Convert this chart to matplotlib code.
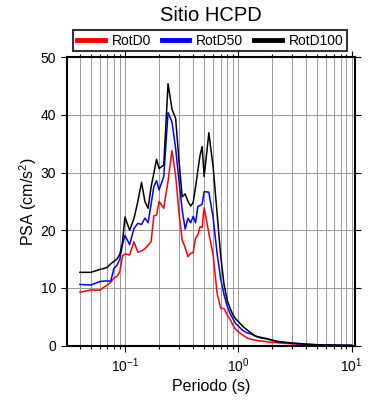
import matplotlib
matplotlib.use("Agg")
from matplotlib import pyplot as plt
from matplotlib.ticker import LogLocator, FixedLocator

plt.rcParams["font.family"] = ["Liberation Sans", "DejaVu Sans"]
plt.rcParams["mathtext.fontset"] = "custom"
plt.rcParams["mathtext.rm"] = "Liberation Sans"
plt.rcParams["mathtext.it"] = "Liberation Sans:italic"

periods = [0.04, 0.05, 0.06, 0.066, 0.07, 0.075, 0.08, 0.085, 0.09, 0.095,
           0.10, 0.11, 0.12, 0.13, 0.14, 0.15, 0.16, 0.17, 0.18, 0.19,
           0.20, 0.22, 0.24, 0.26, 0.28, 0.30, 0.32, 0.34, 0.36, 0.38,
           0.40, 0.42, 0.44, 0.46, 0.48, 0.50, 0.55, 0.60, 0.65, 0.70,
           0.75, 0.80, 0.85, 0.90, 0.95, 1.0, 1.1, 1.2, 1.3, 1.4,
           1.5, 1.6, 1.8, 2.0, 2.2, 2.5, 3.0, 3.5, 4.0, 5.0,
           6.0, 7.0, 8.0, 10.0]

rotd0 = [9.25, 9.65, 9.6, 10.2, 10.5, 11.0, 11.7, 12.0, 12.8, 15.5,
         15.9, 15.7, 18.0, 16.2, 16.4, 16.8, 17.4, 18.0, 22.5, 22.6,
         25.0, 23.8, 28.5, 33.8, 29.5, 23.0, 18.3, 17.0, 15.4, 16.0,
         16.1, 18.6, 19.2, 20.6, 20.5, 23.9, 19.5, 15.7, 9.1, 6.5,
         6.4, 5.3, 4.5, 3.5, 2.8, 2.4, 1.8, 1.3, 1.1, 0.95,
         0.85, 0.8, 0.65, 0.55, 0.5, 0.4, 0.3, 0.25, 0.2, 0.12,
         0.08, 0.06, 0.04, 0.03]

rotd50 = [10.6, 10.5, 11.1, 11.2, 11.2, 11.2, 13.4, 13.9, 15.0, 17.5,
          19.1, 17.5, 20.3, 21.2, 21.0, 22.1, 21.3, 24.5, 27.6, 28.6,
          27.0, 29.3, 40.4, 38.8, 34.2, 28.5, 23.5, 20.2, 22.1, 21.3,
          22.4, 21.3, 24.1, 24.3, 24.5, 26.7, 26.6, 22.2, 16.0, 11.5,
          8.8, 6.8, 5.5, 4.6, 3.8, 3.4, 2.6, 2.2, 2.0, 1.7,
          1.5, 1.3, 1.15, 0.9, 0.7, 0.55, 0.4, 0.3, 0.22, 0.13,
          0.09, 0.07, 0.05, 0.03]

rotd100 = [12.7, 12.7, 13.2, 13.4, 13.6, 14.2, 14.6, 15.0, 15.8, 17.8,
           22.3, 20.0, 22.0, 25.0, 28.3, 25.0, 23.8, 27.5, 29.9, 32.3,
           30.7, 31.3, 45.4, 41.0, 39.4, 32.0, 25.8, 26.3, 25.0, 24.2,
           24.8, 27.5, 30.4, 33.0, 34.5, 29.3, 36.9, 31.0, 23.0, 15.5,
           10.5, 7.8, 6.4, 5.3, 4.6, 4.2, 3.3, 2.7, 2.2, 1.7,
           1.5, 1.4, 1.2, 0.95, 0.75, 0.6, 0.45, 0.35, 0.25, 0.15,
           0.1, 0.08, 0.06, 0.04]

series = [("RotD0", rotd0, "red"), ("RotD50", rotd50, "blue"), ("RotD100", rotd100, "black")]

fig = plt.figure(figsize=(3.9, 4.0), dpi=100)
ax = fig.add_axes([0.171, 0.136, 0.739, 0.721])

for name, vals, col in series:
    ax.plot(periods, vals, color=col, lw=1.1, label=name)

ax.set_xscale("log")
ax.set_xlim(0.0306, 10.7)
ax.set_ylim(0, 50)
ax.yaxis.set_major_locator(FixedLocator([0, 10, 20, 30, 40, 50]))
ax.xaxis.set_major_locator(LogLocator(base=10, numticks=10))
ax.xaxis.set_minor_locator(LogLocator(base=10, subs=range(2, 10), numticks=20))

ax.grid(True, which="both", axis="x", color="#999999", lw=0.7)
ax.grid(True, which="major", axis="y", color="#999999", lw=0.7)
ax.set_axisbelow(True)

for s in ax.spines.values():
    s.set_linewidth(1.5)
ax.tick_params(which="both", direction="out", top=True, right=True, labelsize=10, width=0.8)
ax.tick_params(which="major", length=4)
ax.tick_params(which="minor", length=2)

ax.set_xlabel("Periodo (s)", fontsize=11.5, labelpad=3)
ax.set_ylabel("PSA (cm/s$^2$)", fontsize=11.5, labelpad=1)
ax.set_title("Sitio HCPD", fontsize=14.5, pad=26)

leg = ax.legend(loc="lower left", bbox_to_anchor=(0.023, 1.02, 0.95, 0.07), mode="expand",
                ncol=3, frameon=True, fancybox=False, edgecolor="black", fontsize=10,
                handlelength=2.0, borderpad=0.25, handletextpad=0.5, borderaxespad=0)
leg.get_frame().set_linewidth(1.5)
for h in leg.get_lines():
    h.set_linewidth(3.5)

fig.savefig("out.png", dpi=100)
plt.close()
